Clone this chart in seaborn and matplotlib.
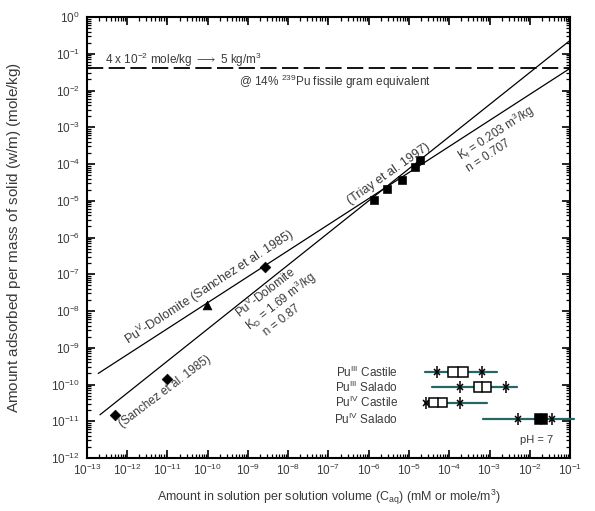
import matplotlib
matplotlib.use("Agg")
import matplotlib.pyplot as plt
import seaborn as sns
import pandas as pd
from matplotlib.ticker import LogLocator, LogFormatterMathtext, NullFormatter
from matplotlib.patches import Rectangle

# measured sorption points (C_aq in mole/m3, sorbed amount in mole/kg)
diamond_x = [5.0e-13, 1.0e-11, 2.6e-9]
diamond_y = [1.5e-11, 1.4e-10, 1.6e-7]
triangle_x = [9.5e-11]
triangle_y = [1.45e-8]
triay_x = [1.35e-6, 2.8e-6, 6.7e-6, 1.4e-5, 1.9e-5]
triay_y = [1.05e-5, 2.1e-5, 3.6e-5, 8.3e-5, 1.3e-4]

# fitted isotherms, end points
fit_f_x = [1.9e-13, 1.0e-1]
fit_f_y = [2.0e-10, 4.0e-2]
fit_d_x = [2.1e-13, 1.0e-1]
fit_d_y = [1.5e-11, 2.3e-1]

limit_y = 4.0e-2

# brine concentration ranges
rows = ["Pu$^{III}$ Castile", "Pu$^{III}$ Salado", "Pu$^{IV}$ Castile", "Pu$^{IV}$ Salado"]
row_y = [2.2e-10, 8.5e-11, 3.2e-11, 1.15e-11]
range_lo = [2.5e-5, 3.7e-5, 2.5e-5, 6.9e-4]
range_hi = [1.55e-3, 4.8e-3, 8.7e-4, 1.26e-1]
p_lo = [5.0e-5, 1.9e-4, 2.7e-5, 5.1e-3]
q1 = [9.3e-5, 4.2e-4, 3.2e-5, 1.35e-2]
med = [1.66e-4, 6.5e-4, 5.2e-5, 1.9e-2]
q3 = [2.95e-4, 1.1e-3, 8.7e-5, 2.7e-2]
p_hi = [6.5e-4, 2.6e-3, 1.9e-4, 3.5e-2]
box_fill = ["white", "white", "white", "black"]

sns.set_theme(style="ticks")
plt.rcParams["font.family"] = ["Liberation Sans", "DejaVu Sans"]
plt.rcParams["mathtext.fontset"] = "custom"
plt.rcParams["mathtext.rm"] = "Liberation Sans"
plt.rcParams["mathtext.it"] = "Liberation Sans:italic"
plt.rcParams["mathtext.default"] = "regular"

txt = "#3a3a3a"
teal = "#236767"

fig = plt.figure(figsize=(5.95, 5.11), dpi=100)
ax = fig.add_axes([0.1462, 0.1037, 0.8118, 0.863])
ax.set_xscale("log")
ax.set_yscale("log")

# isotherm lines
sns.lineplot(x=fit_f_x, y=fit_f_y, ax=ax, color="black", lw=0.9)
sns.lineplot(x=fit_d_x, y=fit_d_y, ax=ax, color="black", lw=0.9)
ax.axhline(limit_y, color="black", lw=1.3, dashes=(9, 3))

# data points
sns.scatterplot(x=diamond_x, y=diamond_y, ax=ax, marker="D", s=30, color="black", edgecolor="black")
sns.scatterplot(x=triangle_x, y=triangle_y, ax=ax, marker="^", s=40, color="black", edgecolor="black")
sns.scatterplot(x=triay_x, y=triay_y, ax=ax, marker="s", s=34, color="black", edgecolor="black")

# range bars
hw = 10 ** 0.13
for i, lab in enumerate(rows):
    y = row_y[i]
    ax.plot([range_lo[i], range_hi[i]], [y, y], color=teal, lw=1.6, clip_on=False, zorder=3)
    ax.add_patch(Rectangle((q1[i], y / hw), q3[i] - q1[i], y * hw - y / hw,
                           facecolor=box_fill[i], edgecolor="black", lw=1.1, zorder=4))
    ax.plot([med[i], med[i]], [y / hw, y * hw], color="black", lw=1.1, zorder=5)
    ax.plot([p_lo[i], p_hi[i]], [y, y], ls="none", marker="x", ms=5, mew=1.1, color="black", zorder=5)
    ax.plot([p_lo[i], p_hi[i]], [y, y], ls="none", marker="|", ms=8, mew=1.1, color="black", zorder=5)
    ax.text(5.3e-6, y, lab, ha="right", va="center", fontsize=8.5, color=txt)

ax.text(1.45e-2, 3.0e-12, "pH = 7", ha="center", va="center", fontsize=8, color=txt)

# annotations
ax.text(2.8e-13, 6.8e-2, "4 x 10$^{-2}$ mole/kg $\\longrightarrow$ 5 kg/m$^3$",
        ha="left", va="center", fontsize=8.5, color=txt)
ax.text(1.45e-7, 1.7e-2, "@ 14% $^{239}$Pu fissile gram equivalent",
        ha="center", va="center", fontsize=8.5, color=txt)
ax.text(1.1e-10, 4.3e-8, "Pu$^{V}$-Dolomite (Sanchez et al. 1985)", rotation=33,
        ha="center", va="center", rotation_mode="anchor", fontsize=9, color=txt)
ax.text(6.3e-9, 2.0e-8, "Pu$^{V}$-Dolomite\nK$_{D}$ = 1.69 m$^3$/kg\n   n = 0.87", rotation=38,
        ha="center", va="center", rotation_mode="anchor", multialignment="left",
        fontsize=8.5, color=txt, linespacing=1.0)
ax.text(8.7e-12, 6.6e-11, "(Sanchez et al. 1985)", rotation=37,
        ha="center", va="center", rotation_mode="anchor", fontsize=8.5, color=txt)
ax.text(3.2e-6, 5.5e-5, "(Triay et al. 1997)", rotation=35,
        ha="center", va="center", rotation_mode="anchor", fontsize=9, color=txt)
ax.text(1.8e-3, 5.1e-4, "K$_{f}$ = 0.203 m$^3$/kg\nn = 0.707", rotation=33,
        ha="center", va="center", rotation_mode="anchor", multialignment="left",
        fontsize=8.5, color=txt, linespacing=1.0)

ax.set_xlim(1e-13, 1e-1)
ax.set_ylim(1e-12, 1e0)
for axis in (ax.xaxis, ax.yaxis):
    axis.set_major_locator(LogLocator(base=10, numticks=20))
    axis.set_minor_locator(LogLocator(base=10, subs=range(2, 10), numticks=20))
    axis.set_major_formatter(LogFormatterMathtext())
    axis.set_minor_formatter(NullFormatter())
ax.tick_params(which="both", direction="in", top=True, right=True, colors="black",
               labelcolor=txt, labelsize=8.5)
ax.tick_params(axis="y", pad=5)
ax.tick_params(which="major", length=6, width=1.2)
ax.tick_params(which="minor", length=3, width=0.9)
for sp in ax.spines.values():
    sp.set_linewidth(1.5)
    sp.set_color("black")

ax.set_xlabel("Amount in solution per solution volume ($C_{aq}$) (mM or mole/m$^3$)",
              fontsize=9, color=txt, labelpad=7)
ax.set_ylabel("Amount adsorbed per mass of solid ($w$/m) (mole/kg)",
              fontsize=11, color=txt)
ax.yaxis.set_label_coords(-0.133, 0.5)

fig.savefig("out.png", dpi=100)
